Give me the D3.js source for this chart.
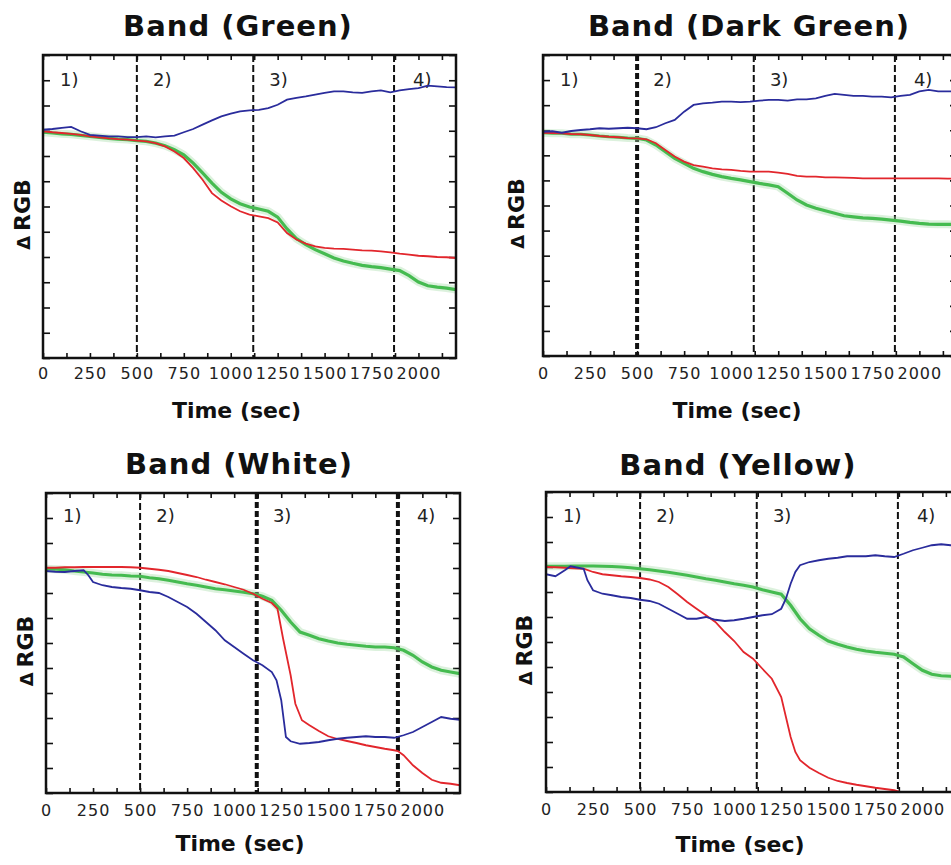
<!DOCTYPE html>
<html>
<head>
<meta charset="utf-8">
<script src="https://cdn.jsdelivr.net/npm/d3@7"></script>
<style>
  body { margin: 0; background: #fff; }
  text { font-family: "DejaVu Sans", "Open Sans", sans-serif; }
</style>
</head>
<body>
<svg width="951" height="865"></svg>
<script>
const svg = d3.select('svg');

// shared axis / annotation values
const xLabels = [0, 250, 500, 750, 1000, 1250, 1500, 1750, 2000];
const stageTimes = [500, 1120, 1870];
const stageLabels = ['1)', '2)', '3)', '4)'];
const stageLabelTimes = [140, 635, 1255, 2020];

// Band (Green): [time (sec), ΔRGB]
const greenBandBlue = [[0,9.04],[50,9.07],[100,9.11],[150,9.15],[200,8.98],[250,8.84],[300,8.81],[350,8.78],[400,8.78],[450,8.75],[500,8.75],[550,8.78],[600,8.74],[650,8.78],[700,8.81],[750,8.94],[800,9.07],[850,9.24],[900,9.41],[950,9.57],[1000,9.68],[1050,9.77],[1100,9.81],[1150,9.83],[1200,9.90],[1250,10.03],[1300,10.23],[1350,10.30],[1400,10.36],[1450,10.43],[1500,10.50],[1550,10.56],[1600,10.56],[1650,10.52],[1700,10.50],[1750,10.56],[1800,10.60],[1850,10.52],[1900,10.60],[1950,10.65],[2000,10.69],[2050,10.79],[2100,10.76],[2150,10.73],[2200,10.72]];
const greenBandRed = [[0,8.98],[50,8.94],[100,8.91],[150,8.88],[200,8.84],[250,8.78],[300,8.74],[350,8.70],[400,8.67],[450,8.65],[500,8.61],[550,8.58],[600,8.51],[650,8.38],[700,8.18],[750,7.92],[800,7.52],[850,7.06],[900,6.53],[950,6.24],[1000,6.01],[1050,5.81],[1100,5.68],[1150,5.61],[1200,5.54],[1250,5.37],[1300,4.95],[1350,4.69],[1400,4.53],[1450,4.42],[1500,4.36],[1550,4.33],[1600,4.32],[1650,4.29],[1700,4.26],[1750,4.25],[1800,4.22],[1850,4.18],[1900,4.13],[1950,4.09],[2000,4.05],[2050,4.03],[2100,4.00],[2150,3.99],[2200,3.96]];
const greenBandGreen = [[0,8.94],[50,8.91],[100,8.88],[150,8.86],[200,8.82],[250,8.78],[300,8.74],[350,8.70],[400,8.67],[450,8.65],[500,8.61],[550,8.58],[600,8.51],[650,8.41],[700,8.25],[750,8.05],[800,7.72],[850,7.33],[900,6.93],[950,6.56],[1000,6.30],[1050,6.11],[1100,5.98],[1150,5.90],[1200,5.81],[1250,5.58],[1300,5.11],[1350,4.73],[1400,4.49],[1450,4.29],[1500,4.13],[1550,3.96],[1600,3.84],[1650,3.75],[1700,3.67],[1750,3.62],[1800,3.58],[1850,3.52],[1900,3.46],[1950,3.26],[2000,3.01],[2050,2.86],[2100,2.81],[2150,2.77],[2200,2.71]];

// Band (Dark Green)
const darkGreenBandBlue = [[0,8.94],[50,8.96],[100,8.90],[150,8.97],[200,9.01],[250,9.04],[300,9.08],[350,9.06],[400,9.08],[450,9.10],[500,9.08],[550,9.04],[600,9.12],[650,9.28],[700,9.41],[750,9.74],[800,10.01],[850,10.07],[900,10.10],[950,10.14],[1000,10.14],[1050,10.12],[1100,10.14],[1150,10.18],[1200,10.21],[1250,10.21],[1300,10.18],[1350,10.23],[1400,10.23],[1450,10.27],[1500,10.37],[1550,10.45],[1600,10.41],[1650,10.37],[1700,10.37],[1750,10.34],[1800,10.34],[1850,10.31],[1900,10.37],[1950,10.41],[2000,10.55],[2050,10.61],[2100,10.55],[2150,10.55],[2200,10.55]];
const darkGreenBandRed = [[0,8.90],[50,8.89],[100,8.88],[150,8.85],[200,8.84],[250,8.81],[300,8.77],[350,8.74],[400,8.72],[450,8.69],[500,8.68],[550,8.64],[600,8.48],[650,8.21],[700,7.95],[750,7.75],[800,7.61],[850,7.55],[900,7.48],[950,7.44],[1000,7.42],[1050,7.38],[1100,7.35],[1150,7.35],[1200,7.35],[1250,7.31],[1300,7.26],[1350,7.18],[1400,7.15],[1450,7.15],[1500,7.12],[1550,7.12],[1600,7.11],[1650,7.10],[1700,7.08],[1750,7.08],[1800,7.08],[1850,7.08],[1900,7.08],[1950,7.08],[2000,7.08],[2050,7.08],[2100,7.08],[2150,7.07],[2200,7.07]];
const darkGreenBandGreen = [[0,8.90],[50,8.88],[100,8.88],[150,8.84],[200,8.84],[250,8.81],[300,8.77],[350,8.74],[400,8.72],[450,8.69],[500,8.68],[550,8.61],[600,8.41],[650,8.15],[700,7.88],[750,7.68],[800,7.48],[850,7.35],[900,7.24],[950,7.15],[1000,7.08],[1050,7.02],[1100,6.95],[1150,6.88],[1200,6.82],[1250,6.75],[1300,6.49],[1350,6.22],[1400,6.02],[1450,5.89],[1500,5.79],[1550,5.69],[1600,5.59],[1650,5.55],[1700,5.51],[1750,5.49],[1800,5.46],[1850,5.42],[1900,5.38],[1950,5.33],[2000,5.29],[2050,5.26],[2100,5.25],[2150,5.25],[2200,5.24]];

// Band (White)
const whiteBandBlue = [[0,8.88],[50,8.85],[100,8.84],[150,8.88],[200,8.91],[225,8.71],[250,8.44],[300,8.31],[350,8.24],[400,8.20],[450,8.17],[500,8.11],[550,8.04],[600,8.00],[650,7.84],[700,7.64],[750,7.44],[800,7.17],[850,6.84],[900,6.51],[950,6.11],[1000,5.84],[1050,5.57],[1100,5.31],[1150,5.11],[1200,4.84],[1225,4.51],[1250,3.71],[1275,2.24],[1300,2.07],[1350,1.97],[1400,2.00],[1450,2.04],[1500,2.11],[1550,2.17],[1600,2.21],[1650,2.24],[1700,2.27],[1750,2.24],[1800,2.24],[1850,2.21],[1900,2.31],[1950,2.44],[2000,2.64],[2050,2.84],[2100,3.04],[2150,2.97],[2200,2.93]];
const whiteBandRed = [[0,9.01],[50,9.01],[100,9.03],[150,9.03],[200,9.04],[250,9.04],[300,9.04],[350,9.04],[400,9.04],[450,9.03],[500,9.01],[550,8.97],[600,8.93],[650,8.88],[700,8.80],[750,8.72],[800,8.64],[850,8.53],[900,8.44],[950,8.35],[1000,8.24],[1050,8.13],[1100,7.97],[1150,7.77],[1200,7.60],[1230,7.37],[1260,6.17],[1300,4.71],[1325,3.57],[1360,2.91],[1400,2.71],[1450,2.48],[1500,2.27],[1550,2.16],[1600,2.08],[1650,2.00],[1700,1.91],[1750,1.84],[1800,1.77],[1850,1.71],[1870,1.68],[1900,1.51],[1950,1.11],[2000,0.80],[2050,0.53],[2100,0.41],[2150,0.37],[2200,0.31]];
const whiteBandGreen = [[0,8.97],[50,8.95],[100,8.93],[150,8.88],[200,8.84],[250,8.80],[300,8.75],[350,8.72],[400,8.71],[450,8.68],[500,8.67],[550,8.61],[600,8.57],[650,8.51],[700,8.44],[750,8.37],[800,8.31],[850,8.24],[900,8.17],[950,8.13],[1000,8.08],[1050,8.03],[1100,7.97],[1150,7.87],[1200,7.71],[1250,7.31],[1300,6.84],[1350,6.44],[1400,6.31],[1450,6.17],[1500,6.08],[1550,6.00],[1600,5.95],[1650,5.91],[1700,5.87],[1750,5.84],[1800,5.84],[1850,5.81],[1900,5.71],[1950,5.51],[2000,5.24],[2050,5.04],[2100,4.91],[2150,4.84],[2200,4.77]];

// Band (Yellow)
const yellowBandBlue = [[0,8.71],[50,8.63],[100,8.87],[130,9.03],[150,9.00],[200,8.93],[220,8.47],[250,8.07],[300,7.93],[350,7.87],[400,7.80],[450,7.76],[500,7.69],[550,7.64],[600,7.53],[650,7.33],[700,7.13],[750,6.93],[800,6.93],[850,7.00],[900,6.89],[950,6.84],[1000,6.87],[1050,6.93],[1100,7.00],[1150,7.07],[1200,7.11],[1250,7.33],[1275,7.73],[1300,8.33],[1325,8.80],[1350,9.07],[1400,9.20],[1450,9.27],[1500,9.33],[1550,9.37],[1600,9.43],[1650,9.43],[1700,9.43],[1750,9.47],[1800,9.43],[1850,9.40],[1900,9.53],[1950,9.67],[2000,9.77],[2050,9.87],[2100,9.91],[2150,9.87],[2200,9.87]];
const yellowBandRed = [[0,9.00],[50,8.99],[100,8.97],[150,8.95],[200,8.93],[250,8.80],[300,8.71],[350,8.67],[400,8.63],[450,8.60],[500,8.56],[550,8.50],[600,8.40],[650,8.20],[700,7.91],[750,7.60],[800,7.33],[850,7.07],[900,6.80],[950,6.40],[1000,6.04],[1050,5.60],[1100,5.33],[1150,4.93],[1200,4.53],[1250,3.80],[1275,3.00],[1300,2.20],[1325,1.60],[1350,1.27],[1400,0.97],[1450,0.76],[1500,0.57],[1550,0.44],[1600,0.36],[1650,0.29],[1700,0.23],[1750,0.17],[1800,0.12],[1850,0.07],[1880,0.01]];
const yellowBandGreen = [[0,9.03],[50,9.03],[100,9.03],[150,9.04],[200,9.04],[250,9.04],[300,9.03],[350,9.02],[400,9.00],[450,8.97],[500,8.93],[550,8.89],[600,8.84],[650,8.79],[700,8.73],[750,8.67],[800,8.60],[850,8.53],[900,8.47],[950,8.40],[1000,8.33],[1050,8.27],[1100,8.20],[1150,8.09],[1200,8.00],[1250,7.91],[1300,7.47],[1350,6.93],[1400,6.53],[1450,6.27],[1500,6.04],[1550,5.91],[1600,5.80],[1650,5.71],[1700,5.64],[1750,5.59],[1800,5.55],[1850,5.51],[1900,5.40],[1950,5.13],[2000,4.87],[2050,4.71],[2100,4.65],[2150,4.63],[2200,4.60]];

const panels = [
  { title: 'Band (Green)', titleX: 238, titleY: 36,
    left: 43, top: 55, width: 413, height: 303,
    stageY: 86, tickY: 379, axisY: 418, yLabelX: 30,
    blue: greenBandBlue, red: greenBandRed, green: greenBandGreen,
    thick: [false, false, false] },
  { title: 'Band (Dark Green)', titleX: 749, titleY: 36,
    left: 543, top: 55, width: 414, height: 301,
    stageY: 86, tickY: 379, axisY: 418, yLabelX: 524,
    blue: darkGreenBandBlue, red: darkGreenBandRed, green: darkGreenBandGreen,
    thick: [true, false, false] },
  { title: 'Band (White)', titleX: 239, titleY: 474,
    left: 46, top: 493, width: 414, height: 300,
    stageY: 522, tickY: 816, axisY: 851, yLabelX: 33,
    blue: whiteBandBlue, red: whiteBandRed, green: whiteBandGreen,
    thick: [false, true, true] },
  { title: 'Band (Yellow)', titleX: 738, titleY: 475,
    left: 546, top: 492, width: 414, height: 300,
    stageY: 522, tickY: 815, axisY: 852, yLabelX: 532,
    blue: yellowBandBlue, red: yellowBandRed, green: yellowBandGreen,
    thick: [false, false, false] }
];

panels.forEach((p, i) => {
  const x = d3.scaleLinear().domain([0, 2200]).range([0, p.width]);
  const y = d3.scaleLinear().domain([0, 12]).range([p.height, 0]);

  // title and axis titles
  svg.append('text')
    .attr('x', p.titleX).attr('y', p.titleY)
    .attr('text-anchor', 'middle')
    .attr('font-size', 29).attr('font-weight', 700)
    .attr('letter-spacing', 1)
    .attr('fill', '#111')
    .text(p.title);

  svg.append('text')
    .attr('x', p.left + p.width / 2 - 13).attr('y', p.axisY)
    .attr('text-anchor', 'middle')
    .attr('font-size', 22).attr('font-weight', 700)
    .attr('fill', '#111')
    .text('Time (sec)');

  const yl = svg.append('text')
    .attr('transform', `translate(${p.yLabelX}, ${p.top + p.height / 2 + 8}) rotate(-90)`)
    .attr('text-anchor', 'middle')
    .attr('font-weight', 700)
    .attr('fill', '#111');
  yl.append('tspan').attr('font-size', 18).text('Δ');
  yl.append('tspan').attr('font-size', 22).attr('dx', 5).text('RGB');

  const g = svg.append('g')
    .attr('transform', `translate(${p.left}, ${p.top})`);

  g.append('clipPath').attr('id', `clip${i}`)
    .append('rect').attr('width', p.width).attr('height', p.height);

  // inward ticks on all four sides
  const yMinor = d3.range(0, 13, 1);
  const xMinor = d3.range(0, 2201, 125);
  const tickStyle = (sel) => {
    sel.select('.domain').remove();
    sel.selectAll('line').attr('stroke', '#111').attr('stroke-width', 1.6);
  };
  g.append('g').attr('transform', `translate(0, ${p.height})`)
    .call(d3.axisBottom(x).tickValues(xMinor).tickSize(-5).tickFormat(''))
    .call(tickStyle);
  g.append('g')
    .call(d3.axisTop(x).tickValues(xMinor).tickSize(-5).tickFormat(''))
    .call(tickStyle);
  g.append('g')
    .call(d3.axisLeft(y).tickValues(yMinor).tickSize(-7).tickFormat(''))
    .call(tickStyle);
  g.append('g').attr('transform', `translate(${p.width}, 0)`)
    .call(d3.axisRight(y).tickValues(yMinor).tickSize(-7).tickFormat(''))
    .call(tickStyle);

  // x tick labels
  const lab = g.append('g').attr('transform', `translate(0, ${p.tickY - p.top})`)
    .call(d3.axisBottom(x).tickValues(xLabels).tickSize(0).tickPadding(0).tickFormat(d3.format('d')));
  lab.select('.domain').remove();
  lab.selectAll('text')
    .attr('dy', 0)
    .attr('font-family', '"Liberation Sans", Arial, sans-serif')
    .attr('font-size', 16)
    .attr('letter-spacing', 1)
    .attr('fill', '#222');

  // stage separators
  g.selectAll('.stage')
    .data(stageTimes)
    .enter()
    .append('line')
    .attr('x1', (d) => x(d)).attr('x2', (d) => x(d))
    .attr('y1', 0).attr('y2', p.height)
    .attr('stroke', '#111')
    .attr('stroke-width', (d, j) => (p.thick[j] ? 4 : 2))
    .attr('stroke-dasharray', (d, j) => (p.thick[j] ? '6 3' : '7 3'));

  g.selectAll('.stageLabel')
    .data(stageLabels)
    .enter()
    .append('text')
    .attr('x', (d, j) => x(stageLabelTimes[j]))
    .attr('y', p.stageY - p.top)
    .attr('text-anchor', 'middle')
    .attr('font-family', '"Liberation Sans", Arial, sans-serif')
    .attr('font-size', 18)
    .attr('fill', '#222')
    .text((d) => d);

  const line = d3.line().x((d) => x(d[0])).y((d) => y(d[1]));
  const plot = g.append('g').attr('clip-path', `url(#clip${i})`);

  plot.append('path').datum(p.green)
    .attr('d', line).attr('fill', 'none')
    .attr('stroke', '#a8dcaa').attr('stroke-opacity', 0.4)
    .attr('stroke-width', 8);
  plot.append('path').datum(p.green)
    .attr('d', line).attr('fill', 'none')
    .attr('stroke', '#45bb50').attr('stroke-width', 3.2);
  plot.append('path').datum(p.red)
    .attr('d', line).attr('fill', 'none')
    .attr('stroke', '#e2262c').attr('stroke-width', 1.8);
  plot.append('path').datum(p.blue)
    .attr('d', line).attr('fill', 'none')
    .attr('stroke', '#2a2c9c').attr('stroke-width', 1.8);

  // frame
  g.append('rect')
    .attr('width', p.width).attr('height', p.height)
    .attr('fill', 'none').attr('stroke', '#111').attr('stroke-width', 2.5);
});
</script>
</body>
</html>
